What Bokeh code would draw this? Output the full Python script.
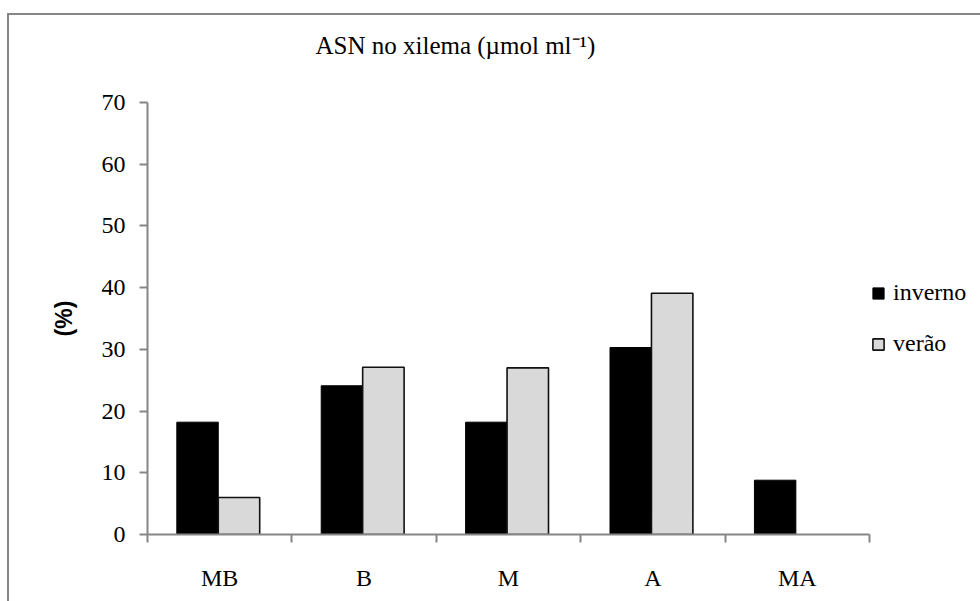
from bokeh.plotting import figure
from bokeh.models import (FixedTicker, Legend, LegendItem, Title,
                          Range1d, ColumnDataSource)
from bokeh.embed import file_html
from bokeh.resources import INLINE

# ---- data ----
categories = ["MB", "B", "M", "A", "MA"]
inverno = [18.2, 24.1, 18.2, 30.3, 8.8]
verao = [6.0, 27.1, 27.0, 39.1, 0.0]
series_names = ["inverno", "verão"]
y_ticks = [0, 10, 20, 30, 40, 50, 60, 70]
title_text = "ASN no xilema (µmol ml\u207b\u00b9)"
y_label = "(%)"

# ---- layout constants ----
OX, OY = 9, 15              # page offset of the plot (margin + border)
LEFT, RIGHT, TOP, BOTTOM = 147 - OX, 111, 102 - OY, 67
FRAME_W, FRAME_H = 722, 432
AXIS_GRAY = "#868686"
SERIF = "Liberation Serif"
BAR_W = 0.287
GROUP_C = 0.49

p = figure(frame_width=FRAME_W, frame_height=FRAME_H,
           output_backend="svg", toolbar_location=None,
           x_range=Range1d(0, len(categories)), y_range=Range1d(0, y_ticks[-1]),
           min_border_left=LEFT, min_border_right=RIGHT,
           min_border_top=TOP, min_border_bottom=BOTTOM)
p.styles = {"margin-left": "7px", "margin-top": "13px",
            "border-left": "2px solid #868686", "border-top": "2px solid #868686"}
p.outline_line_color = None
p.xgrid.visible = False
p.ygrid.visible = False
p.background_fill_color = "white"
p.border_fill_color = "white"

pos = list(range(len(categories)))
src = ColumnDataSource(dict(
    x1=[i + GROUP_C - BAR_W / 2 for i in pos],
    x2=[i + GROUP_C + BAR_W / 2 for i in pos],
    inv=inverno,
    ver=verao,
    ver_line=[1.0 if v > 0 else 0.0 for v in verao],
))
r1 = p.vbar(x="x1", top="inv", bottom=0, width=BAR_W, source=src,
            fill_color="black", line_color="black", line_width=1)
r2 = p.vbar(x="x2", top="ver", bottom=0, width=BAR_W, source=src,
            fill_color="#d9d9d9", line_color="#111111", line_width=1.6,
            line_alpha="ver_line")

# ---- title: a thin spacer next to the frame, then the title above it ----
p.title_location = None
p.add_layout(Title(text=" ", text_font_size="1px", standoff=41), "above")
p.add_layout(Title(text=title_text, align="left", offset=168, standoff=0,
                   text_font=SERIF, text_font_size="25px", text_font_style="normal",
                   text_color="black"), "above")

# ---- x axis ----
xa = p.xaxis[0]
xa.ticker = FixedTicker(ticks=[i + 0.5 for i in pos],
                        minor_ticks=[float(i) for i in range(len(categories) + 1)])
xa.major_label_overrides = {i + 0.5: c for i, c in enumerate(categories)}
xa.major_tick_out = 0
xa.major_tick_in = 0
xa.minor_tick_out = 8
xa.minor_tick_in = 0
xa.minor_tick_line_color = AXIS_GRAY
xa.minor_tick_line_width = 2
xa.axis_line_color = AXIS_GRAY
xa.axis_line_width = 2
xa.major_label_standoff = 22
xa.major_label_text_font = SERIF
xa.major_label_text_font_size = "24px"
xa.major_label_text_color = "black"

# ---- y axis ----
ya = p.yaxis[0]
ya.ticker = FixedTicker(ticks=y_ticks)
ya.major_tick_out = 8
ya.major_tick_in = 0
ya.minor_tick_out = 0
ya.minor_tick_in = 0
ya.major_tick_line_color = AXIS_GRAY
ya.major_tick_line_width = 2
ya.axis_line_color = AXIS_GRAY
ya.axis_line_width = 2
ya.major_label_standoff = 14
ya.major_label_text_font = SERIF
ya.major_label_text_font_size = "24px"
ya.major_label_text_color = "black"
ya.axis_label = y_label
ya.axis_label_text_font = "Liberation Sans"
ya.axis_label_text_font_style = "bold"
ya.axis_label_text_font_size = "23px"
ya.axis_label_text_color = "black"
ya.axis_label_standoff = 22

# ---- legend (right panel, vertically centred like the original) ----
legend = Legend(items=[LegendItem(label=series_names[0], renderers=[r1]),
                       LegendItem(label=series_names[1], renderers=[r2])],
                location="left",
                glyph_width=14, glyph_height=14, label_height=14,
                label_standoff=8, spacing=24, padding=0, margin=2,
                border_line_alpha=0, background_fill_alpha=0,
                label_text_font=SERIF, label_text_font_size="24px",
                label_text_color="black")
p.add_layout(legend, "right")

open("out.html", "w").write(file_html(p, INLINE))
